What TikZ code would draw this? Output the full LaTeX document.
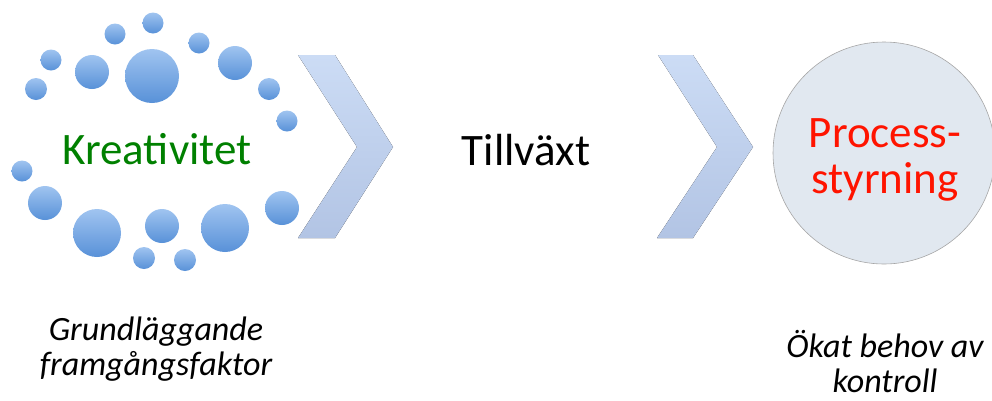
\documentclass[tikz,border=0pt]{standalone}
\usepackage{fontspec}
\setmainfont{Carlito}
\definecolor{dottop}{RGB}{160,196,240}
\definecolor{dotbot}{RGB}{88,145,216}
\definecolor{chevtop}{RGB}{204,220,245}
\definecolor{chevbot}{RGB}{178,196,228}
\definecolor{bigfill}{RGB}{225,232,240}
\definecolor{kgreen}{RGB}{0,128,0}
\definecolor{pred}{RGB}{255,20,0}
\tikzset{
  dot/.style={circle, inner sep=0pt, top color=dottop, bottom color=dotbot, draw=none},
  chev/.style={top color=chevtop, bottom color=chevbot, draw=none},
  bigtext/.style={anchor=base, inner sep=0pt, font=\fontsize{45}{46}\selectfont},
  smalltext/.style={anchor=base, inner sep=0pt, font=\fontsize{34}{35}\selectfont\itshape},
}
\begin{document}
\begin{tikzpicture}[x=1pt,y=-1pt]
\useasboundingbox (0,0) rectangle (992,400);
% dots
\foreach \x/\y/\r [count=\i] in {153/23/10.5,115/34/10.5,199/43/10.5,51/60/10.5,92/72/17,152/76/27,235/63/17,36/89/11,269/89/11,287/121/10.5,22/171/10.5,45/203/17,97/233/24,162/226/17,225/228/24,282/208/17,144/258/11,185/260/11}
  \node[dot, minimum size=2*\r pt] (c\i) at (\x,\y) {};
% chevrons
\fill[chev] (298,55) -- (335,55) -- (393,147) -- (335,238) -- (298,238) -- (357,147) -- cycle;
\fill[chev] (658,55) -- (693,55) -- (753,147) -- (693,238) -- (657,238) -- (717,147) -- cycle;
% big circle
\node[circle, minimum size=222pt, inner sep=0pt, fill=bigfill, draw=black!35, line width=0.6pt] (pc) at (884,153) {};
\node[bigtext, text=pred] (p1) at (885,147) {Process-};
\node[bigtext, text=pred] (p2) at (885,193) {styrning};
% texts
\node[bigtext, text=kgreen] (kr) at (157,164) {Kreativitet};
\node[bigtext] (ti) at (526,165) {Tillväxt};
\node[smalltext] (g1) at (156,340) {Grundläggande};
\node[smalltext] (g2) at (156,375) {framgångsfaktor};
\node[smalltext] (o1) at (885,357) {Ökat behov av};
\node[smalltext] (o2) at (885,392) {kontroll};
\end{tikzpicture}
\end{document}
